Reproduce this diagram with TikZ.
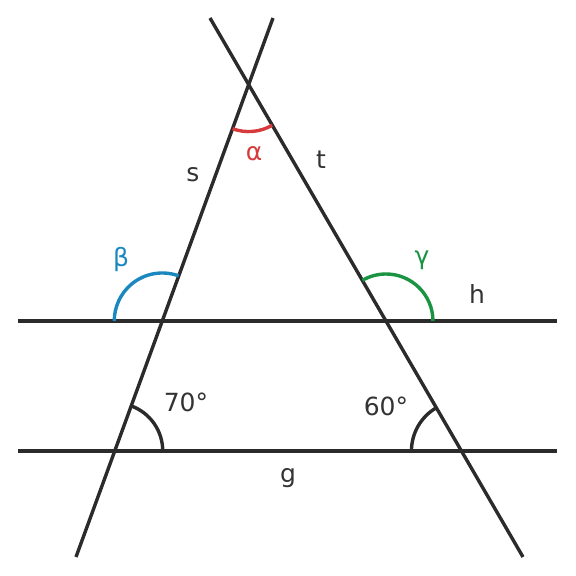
\documentclass[tikz,border=0pt]{standalone}
\usepackage{fontspec}
\setmainfont{DejaVu Sans}
\usetikzlibrary{intersections}
\definecolor{ink}{HTML}{2B2B2B}
\definecolor{txt}{HTML}{333333}
\definecolor{ared}{HTML}{D63A3A}
\definecolor{ablue}{HTML}{1A88BF}
\definecolor{agreen}{HTML}{1A9443}
\begin{document}
\begin{tikzpicture}[x=1pt,y=1pt,
  geo/.style={draw=ink,line width=3.4pt},
  ang/.style={line width=3.4pt},
  lbl/.style={text=txt,font=\fontsize{25}{30}\selectfont,inner sep=0pt}]
\useasboundingbox (0,0) rectangle (576,576);
\coordinate (g1) at (18,125);
\coordinate (g2) at (557,125);
\coordinate (h1) at (18,255);
\coordinate (h2) at (557,255);
\coordinate (s1) at (76,19);
\coordinate (s2) at (273,558);
\coordinate (t1) at (523,19);
\coordinate (t2) at (210,558);
\draw[geo,name path=g] (g1) -- (g2);
\draw[geo,name path=h] (h1) -- (h2);
\draw[geo,name path=s] (s1) -- (s2);
\draw[geo,name path=t] (t1) -- (t2);
\path[name intersections={of=s and g,by=A}];
\path[name intersections={of=s and h,by=B}];
\path[name intersections={of=t and g,by=C}];
\path[name intersections={of=t and h,by=D}];
\path[name intersections={of=s and t,by=E}];
\draw[ang,draw=ink] ([shift={(0:48)}]A) arc[start angle=0,end angle=70,radius=48];
\draw[ang,draw=ink] ([shift={(120:50)}]C) arc[start angle=120,end angle=180,radius=50];
\draw[ang,draw=ablue] ([shift={(70:48)}]B) arc[start angle=70,end angle=180,radius=48];
\draw[ang,draw=agreen] ([shift={(0:47)}]D) arc[start angle=0,end angle=120,radius=47];
\draw[ang,draw=ared] ([shift={(250:47)}]E) arc[start angle=250,end angle=300,radius=47];
\node[lbl,text=ared] (la) at (254,422) {α};
\node[lbl] (ls) at (193,401) {s};
\node[lbl] (lt) at (321,416) {t};
\node[lbl,text=ablue] (lb) at (121,316) {β};
\node[lbl,text=agreen] (lg) at (422,316) {γ};
\node[lbl] (lh) at (477,282) {h};
\node[lbl] (l70) at (186,174) {70°};
\node[lbl] (l60) at (386,170) {60°};
\node[lbl] (lgg) at (288,98) {g};
\end{tikzpicture}
\end{document}
